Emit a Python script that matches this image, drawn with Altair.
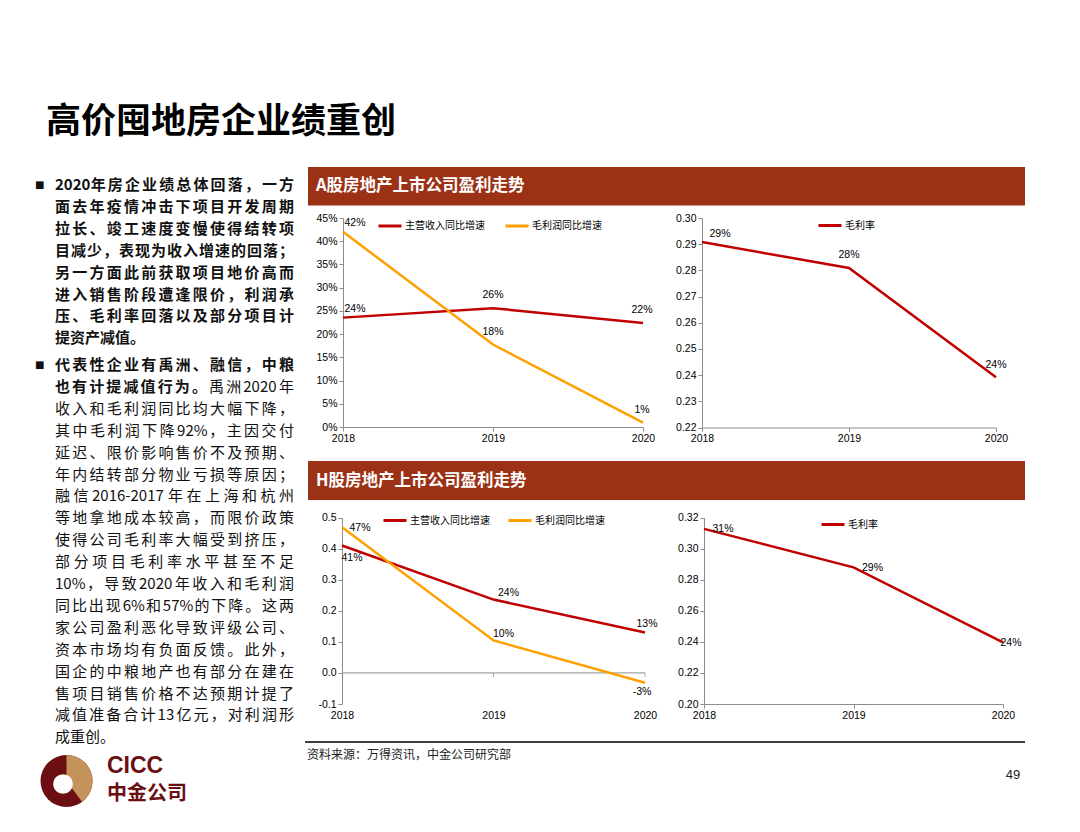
import altair as alt
import pandas as pd

# ---------------- values ----------------
years = [2018, 2019, 2020]

a_growth_series = ["主营收入同比增速", "毛利润同比增速"]
a_revenue_growth = [0.2355, 0.2558, 0.2240]
a_profit_growth = [0.4203, 0.1775, 0.0094]
a_revenue_labels = ["24%", "26%", "22%"]
a_profit_labels = ["42%", "18%", "1%"]

a_margin_series = ["毛利率"]
a_margin = [0.2908, 0.2809, 0.2392]
a_margin_labels = ["29%", "28%", "24%"]

h_growth_series = ["主营收入同比增速", "毛利润同比增速"]
h_revenue_growth = [0.410, 0.236, 0.130]
h_profit_growth = [0.469, 0.1045, -0.0316]
h_revenue_labels = ["41%", "24%", "13%"]
h_profit_labels = ["47%", "10%", "-3%"]

h_margin_series = ["毛利率"]
h_margin = [0.3127, 0.2879, 0.2396]
h_margin_labels = ["31%", "29%", "24%"]

a_growth_ticks = [0, 0.05, 0.10, 0.15, 0.20, 0.25, 0.30, 0.35, 0.40, 0.45]
a_margin_ticks = [0.22, 0.23, 0.24, 0.25, 0.26, 0.27, 0.28, 0.29, 0.30]
h_growth_ticks = [-0.1, 0.0, 0.1, 0.2, 0.3, 0.4, 0.5]
h_margin_ticks = [0.20, 0.22, 0.24, 0.26, 0.28, 0.30, 0.32]

page_title = "高价囤地房企业绩重创"
header_a = "A股房地产上市公司盈利走势"
header_h = "H股房地产上市公司盈利走势"
source_note = "资料来源：万得资讯，中金公司研究部"
page_number = "49"
logo_en = "CICC"
logo_cn = "中金公司"

# paragraph lines: list of (bold_part, normal_part)
para1_lines = [
    ("2020年房企业绩总体回落，一方", ""),
    ("面去年疫情冲击下项目开发周期", ""),
    ("拉长、竣工速度变慢使得结转项", ""),
    ("目减少，表现为收入增速的回落；", ""),
    ("另一方面此前获取项目地价高而", ""),
    ("进入销售阶段遭逢限价，利润承", ""),
    ("压、毛利率回落以及部分项目计", ""),
    ("提资产减值。", ""),
]
para2_lines = [
    ("代表性企业有禹洲、融信，中粮", ""),
    ("也有计提减值行为。", "禹洲2020年"),
    ("", "收入和毛利润同比均大幅下降，"),
    ("", "其中毛利润下降92%，主因交付"),
    ("", "延迟、限价影响售价不及预期、"),
    ("", "年内结转部分物业亏损等原因；"),
    ("", "融信2016-2017年在上海和杭州"),
    ("", "等地拿地成本较高，而限价政策"),
    ("", "使得公司毛利率大幅受到挤压，"),
    ("", "部分项目毛利率水平甚至不足"),
    ("", "10%，导致2020年收入和毛利润"),
    ("", "同比出现6%和57%的下降。这两"),
    ("", "家公司盈利恶化导致评级公司、"),
    ("", "资本市场均有负面反馈。此外，"),
    ("", "国企的中粮地产也有部分在建在"),
    ("", "售项目销售价格不达预期计提了"),
    ("", "减值准备合计13亿元，对利润形"),
    ("", "成重创。"),
]

# ---------------- layout / style ----------------
M = 8
W, H = 1064, 816
CJK = "Noto Sans CJK SC"
LAT = "Liberation Sans"
RED = "#C00000"
ORANGE = "#FFA000"
BAR = "#9B3216"
GREY = "#8C8C8C"
MAROON = "#6B0F12"
TAN = "#C4935A"
BODY_FS = 15
BODY_X0, BODY_X1 = 55, 294
LINE_H = 21.9
PARA_GAP = 0.22


def P(v):
    return v - M


one = pd.DataFrame({"k": [0]})


def txt(s, x, y, **kw):
    align = kw.pop("align", "left")
    return alt.Chart(pd.DataFrame({"t": [s]})).mark_text(
        align=align, baseline="middle", **kw
    ).encode(x=alt.value(P(x)), y=alt.value(P(y)), text="t:N")


def rect(x0, y0, x1, y1, color):
    return alt.Chart(one).mark_rect(color=color).encode(
        x=alt.value(P(x0)), x2=alt.value(P(x1)), y=alt.value(P(y0)), y2=alt.value(P(y1))
    )


def panel(values, labels, series, colors, box, domain, ticks, fmt, legend_pos,
          col_pad, label_offsets, zero_line=False):
    x0, x1, ytop, ybot = box
    rows = []
    for s, vals, labs in zip(series, values, labels):
        for yr, v, lb in zip(years, vals, labs):
            rows.append({"series": s, "year": yr, "value": v, "label": lb})
    df = pd.DataFrame(rows)
    label_expr = "replace(format(datum.value, '%s'), '\u2212', '-')" % fmt
    x_enc = alt.X(
        "year:O",
        scale=alt.Scale(type="point", domain=years, range=[P(x0), P(x1)], padding=0),
        axis=alt.Axis(orient="bottom", offset=P(ybot) - H, labelAngle=0,
                      labelOverlap=False, title=None, grid=False,
                      domain=not zero_line, ticks=not zero_line,
                      domainColor=GREY, tickColor=GREY, tickSize=4,
                      labelPadding=6 if zero_line else 2, labelFont=LAT,
                      labelFontSize=10.5, labelColor="black"),
    )
    y_enc = alt.Y(
        "value:Q",
        scale=alt.Scale(domain=domain, range=[P(ybot), P(ytop)], nice=False, zero=False),
        axis=alt.Axis(orient="left", offset=-P(x0), values=ticks, labelExpr=label_expr,
                      title=None, grid=False, labelOverlap=False, labelFlush=False,
                      domainColor=GREY, tickColor=GREY, tickSize=4, labelPadding=2,
                      labelFont=LAT, labelFontSize=10.5, labelColor="black"),
    )
    layers = []
    if zero_line:
        base = pd.DataFrame({"year": [years[0]], "year_end": [years[-1]], "value": [0.0]})
        layers.append(alt.Chart(base).mark_rule(color=GREY, strokeWidth=1).encode(
            x=x_enc, x2="year_end", y=y_enc))
        tdf = pd.DataFrame({"year": years[1:], "value": [0.0, 0.0]})
        layers.append(alt.Chart(tdf).mark_tick(orient="vertical", size=4, thickness=1,
                                               color=GREY, yOffset=2).encode(x=x_enc, y=y_enc))
    line = alt.Chart(df).mark_line(strokeWidth=2.5).encode(
        x=x_enc, y=y_enc,
        color=alt.Color("series:N", scale=alt.Scale(domain=series, range=colors),
                        legend=alt.Legend(orient="none", legendX=P(legend_pos[0]),
                                          legendY=P(legend_pos[1]) - 11.5,
                                          direction="horizontal", title=None,
                                          symbolType="stroke", symbolStrokeWidth=3,
                                          symbolSize=529, labelFont=CJK, labelFontSize=10,
                                          labelColor="black", labelOffset=2,
                                          columnPadding=col_pad, padding=0)),
    )
    layers.append(line)
    for s, offs in zip(series, label_offsets):
        for yr, (dx, dy) in zip(years, offs):
            layers.append(
                alt.Chart(df).transform_filter(
                    (alt.datum.series == s) & (alt.datum.year == yr)
                ).mark_text(dx=dx, dy=dy, font=LAT, fontSize=10.5, color="black").encode(
                    x=x_enc, y=y_enc, text="label:N")
            )
    return alt.layer(*layers)


# ---------------- panels ----------------
pA1 = panel([a_revenue_growth, a_profit_growth], [a_revenue_labels, a_profit_labels],
            a_growth_series, [RED, ORANGE], (343, 643, 218, 427), [0, 0.45],
            a_growth_ticks, ".0%", (377, 224.5), 14,
            [[(12, -9), (0, -13), (-1, -13)], [(12, -9), (0, -13), (-1, -13)]])
pA2 = panel([a_margin], [a_margin_labels], a_margin_series, [RED],
            (702, 996, 218, 427.5), [0.22, 0.30], a_margin_ticks, ".2f",
            (817, 224), 14, [[(18, -8), (0, -13), (0, -12)]])
pH1 = panel([h_revenue_growth, h_profit_growth], [h_revenue_labels, h_profit_labels],
            h_growth_series, [RED, ORANGE], (342, 645, 517.5, 704), [-0.1, 0.5],
            h_growth_ticks, ".1f", (382, 519), 12,
            [[(10, 13), (15, -7), (2, -9)], [(18, 1), (10, -6), (-3, 9)]], zero_line=True)
pH2 = panel([h_margin], [h_margin_labels], h_margin_series, [RED],
            (704, 1003, 517.5, 704), [0.20, 0.32], h_margin_ticks, ".2f",
            (820, 523), 14, [[(19, 0), (19, 1), (8, 1)]])


# ---------------- left text column (justified, token by token) ----------------
def tokenize(s, bold):
    toks, run = [], ""
    for ch in s:
        if ord(ch) < 128:
            run += ch
        else:
            if run:
                toks.append((run, bold))
                run = ""
            toks.append((ch, bold))
    if run:
        toks.append((run, bold))
    return toks


def tok_width(tok, fs):
    if ord(tok[0]) >= 128:
        return fs
    w = 0
    for ch in tok:
        w += 0.86 if ch == "%" else (0.36 if ch == "-" else 0.56)
    return w * fs


def layout_paragraph(lines, first_row):
    out = []
    for k, (b, n) in enumerate(lines):
        toks = tokenize(b, True) + tokenize(n, False)
        widths = [tok_width(t, BODY_FS) for t, _ in toks]
        last = k == len(lines) - 1
        gap = 0 if last or len(toks) < 2 else (BODY_X1 - BODY_X0 - sum(widths)) / (len(toks) - 1)
        x = BODY_X0
        for (t, bold), w in zip(toks, widths):
            out.append({"px": P(x), "row": first_row + k, "t": t, "bold": bold})
            x += w + gap
    return out


body = pd.DataFrame(layout_paragraph(para1_lines, 0)
                    + layout_paragraph(para2_lines, len(para1_lines) + PARA_GAP))
bullet_rows = pd.DataFrame({"row": [0, len(para1_lines) + PARA_GAP], "text": ["■", "■"]})

row_enc = alt.Y("row:Q", scale=alt.Scale(domain=[0, 1], range=[P(185), P(185 + LINE_H)],
                                         nice=False, zero=False), axis=None)
px_enc = alt.X("px:Q", scale=None, axis=None)
text_panel = alt.layer(
    alt.Chart(bullet_rows).mark_text(align="left", baseline="middle", font="DejaVu Sans",
                                     fontSize=10, color="#111").encode(
        x=alt.value(P(35)), y=row_enc, text="text:N"),
    alt.Chart(body).transform_filter(alt.datum.bold == True).mark_text(
        align="left", baseline="middle", font=CJK, fontSize=BODY_FS, fontWeight="bold",
        color="#111").encode(x=px_enc, y=row_enc, text="t:N"),
    alt.Chart(body).transform_filter(alt.datum.bold == False).mark_text(
        align="left", baseline="middle", font=CJK, fontSize=BODY_FS,
        color="#111").encode(x=px_enc, y=row_enc, text="t:N"),
)

# ---------------- decorations ----------------
decor = [
    txt(page_title, 46, 122, font=CJK, fontSize=35, fontWeight="bold", color="black"),
    rect(308, 167, 1025, 205.5, BAR),
    rect(308, 461, 1025, 500, BAR),
    txt(header_a, 316, 186, font=CJK, fontSize=16.5, fontWeight="bold", color="white"),
    txt(header_h, 316, 480.5, font=CJK, fontSize=16.5, fontWeight="bold", color="white"),
    alt.Chart(one).mark_rule(color="black", strokeWidth=1.3).encode(
        x=alt.value(P(305)), x2=alt.value(P(1025)), y=alt.value(P(742))),
    txt(source_note, 307, 755, font=CJK, fontSize=12, color="#222"),
    txt(page_number, 1013, 775, font=LAT, fontSize=13, color="#222", align="center"),
    alt.Chart(one).mark_arc(radius=26, theta=0, theta2=6.2832, color=MAROON).encode(
        x=alt.value(P(66.5)), y=alt.value(P(781))),
    alt.Chart(one).mark_arc(radius=26, theta=0, theta2=2.5, color=TAN).encode(
        x=alt.value(P(66.5)), y=alt.value(P(781))),
    alt.Chart(one).mark_circle(size=390, color="white", opacity=1).encode(
        x=alt.value(P(63)), y=alt.value(P(784))),
    txt(logo_en, 107, 766, font=LAT, fontSize=23, fontWeight="bold", color=MAROON),
    txt(logo_cn, 107, 794, font=CJK, fontSize=20, fontWeight="bold", color=MAROON),
]

chart = alt.layer(*decor, text_panel, pA1, pA2, pH1, pH2).resolve_scale(
    x="independent", y="independent", color="independent"
).properties(
    width=W, height=H, autosize=alt.AutoSizeParams(type="none"), padding=0,
    background="white"
).configure_view(stroke=None)

chart.save("out.html", embed_options={"renderer": "svg", "actions": False})
